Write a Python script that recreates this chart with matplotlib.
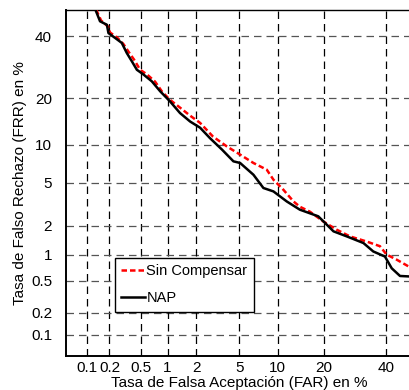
import numpy as np
import matplotlib
matplotlib.use("Agg")
import matplotlib.pyplot as plt
from statistics import NormalDist
from math import erf, sqrt

# DET curves, values in %
far_sin = [0.133, 0.155, 0.192, 0.204, 0.252, 0.30, 0.355, 0.41, 0.484, 0.585, 0.724, 0.868,
           1.06, 1.36, 1.73, 2.18, 2.9, 3.88, 5.07, 6.53, 8.3, 9.31, 10.97, 12.9, 14.2,
           16.5, 19.8, 23.5, 27.6, 33.1, 37.8, 40.2, 44.0, 48.6, 50.0]
frr_sin = [50.0, 45.9, 43.6, 41.4, 39.5, 37.3, 34.2, 31.7, 28.4, 26.9, 24.7, 21.8,
           19.6, 17.6, 15.7, 14.1, 11.4, 9.7, 8.42, 7.26, 6.42, 5.31, 4.36, 3.42, 3.06,
           2.74, 2.21, 1.83, 1.56, 1.38, 1.23, 1.0, 0.875, 0.73, 0.71]

far_nap = [0.13, 0.15, 0.185, 0.194, 0.237, 0.288, 0.333, 0.384, 0.442, 0.53, 0.664, 0.827,
           1.06, 1.36, 1.73, 2.18, 2.72, 3.52, 4.44, 5.07, 6.53, 7.82, 9.31, 11.6, 14.2,
           18.5, 20.3, 22.6, 26.6, 32.0, 35.4, 39.6, 42.1, 45.2, 50.0]
frr_nap = [50.0, 45.6, 44.3, 41.2, 39.4, 37.6, 34.0, 31.2, 28.4, 26.9, 24.8, 21.9,
           19.2, 16.3, 14.4, 13.1, 11.1, 9.17, 7.48, 7.26, 5.84, 4.51, 4.21, 3.42, 2.87,
           2.48, 2.13, 1.76, 1.56, 1.33, 1.08, 0.95, 0.70, 0.57, 0.56]

tick_vals = [0.1, 0.2, 0.5, 1, 2, 5, 10, 20, 40]
tick_labels = ["0.1", "0.2", "0.5", "1", "2", "5", "10", "20", "40"]

nd = NormalDist()
_ppf = np.vectorize(nd.inv_cdf, otypes=[float])
_cdf = np.vectorize(lambda v: 50.0 * (1 + erf(v / sqrt(2))), otypes=[float])


def probit(p):
    p = np.clip(np.asarray(p, dtype=float) / 100.0, 1e-9, 1 - 1e-9)
    return _ppf(p)


def inv_probit(z):
    return _cdf(np.asarray(z, dtype=float))


plt.rcParams['font.family'] = ['Liberation Sans', 'DejaVu Sans']
fs = 11

fig = plt.figure(figsize=(4.09, 3.90), dpi=100)
ax = fig.add_axes([0.1614, 0.0872, 0.8477, 0.888])

ax.set_xscale('function', functions=(probit, inv_probit))
ax.set_yscale('function', functions=(probit, inv_probit))
ax.set_xlim(0.05, 50)
ax.set_ylim(0.05, 50)

ax.plot(far_sin, frr_sin, color="red", linestyle=(0, (2.2, 1.2)), linewidth=1.8, label="Sin Compensar", zorder=3)
ax.plot(far_nap, frr_nap, color="black", linewidth=1.8, label="NAP", zorder=4)

ax.set_xticks(tick_vals)
ax.set_xticklabels(tick_labels)
ax.set_yticks(tick_vals)
ax.set_yticklabels(tick_labels)
ax.minorticks_off()
ax.tick_params(axis='x', length=0, pad=3.5, labelsize=fs)
ax.tick_params(axis='y', length=0, pad=10, labelsize=fs)

for v in tick_vals:
    ax.axvline(v, color="black", linewidth=0.9, linestyle=(0, (6, 4)), zorder=1)
    ax.axhline(v, color="#555555", linewidth=0.9, linestyle=(0, (6, 4)), zorder=1)

for s in ["left", "bottom"]:
    ax.spines[s].set_linewidth(1.4)
ax.spines["top"].set_linewidth(1.0)

ax.set_xlabel("Tasa de Falsa Aceptación (FAR) en %", fontsize=fs, labelpad=0.5)
ax.set_ylabel("Tasa de Falso Rechazo (FRR) en %", fontsize=fs, labelpad=3)

leg = ax.legend(loc="lower left", bbox_to_anchor=(0.141, 0.127, 0.401, 0.167), mode="expand",
                fancybox=False, framealpha=1, edgecolor="black", fontsize=10.5,
                handlelength=1.6, handletextpad=0.1, labelspacing=0.9, borderpad=0.45,
                borderaxespad=0)
leg.get_frame().set_linewidth(1.0)

fig.savefig("out.png", dpi=100)
